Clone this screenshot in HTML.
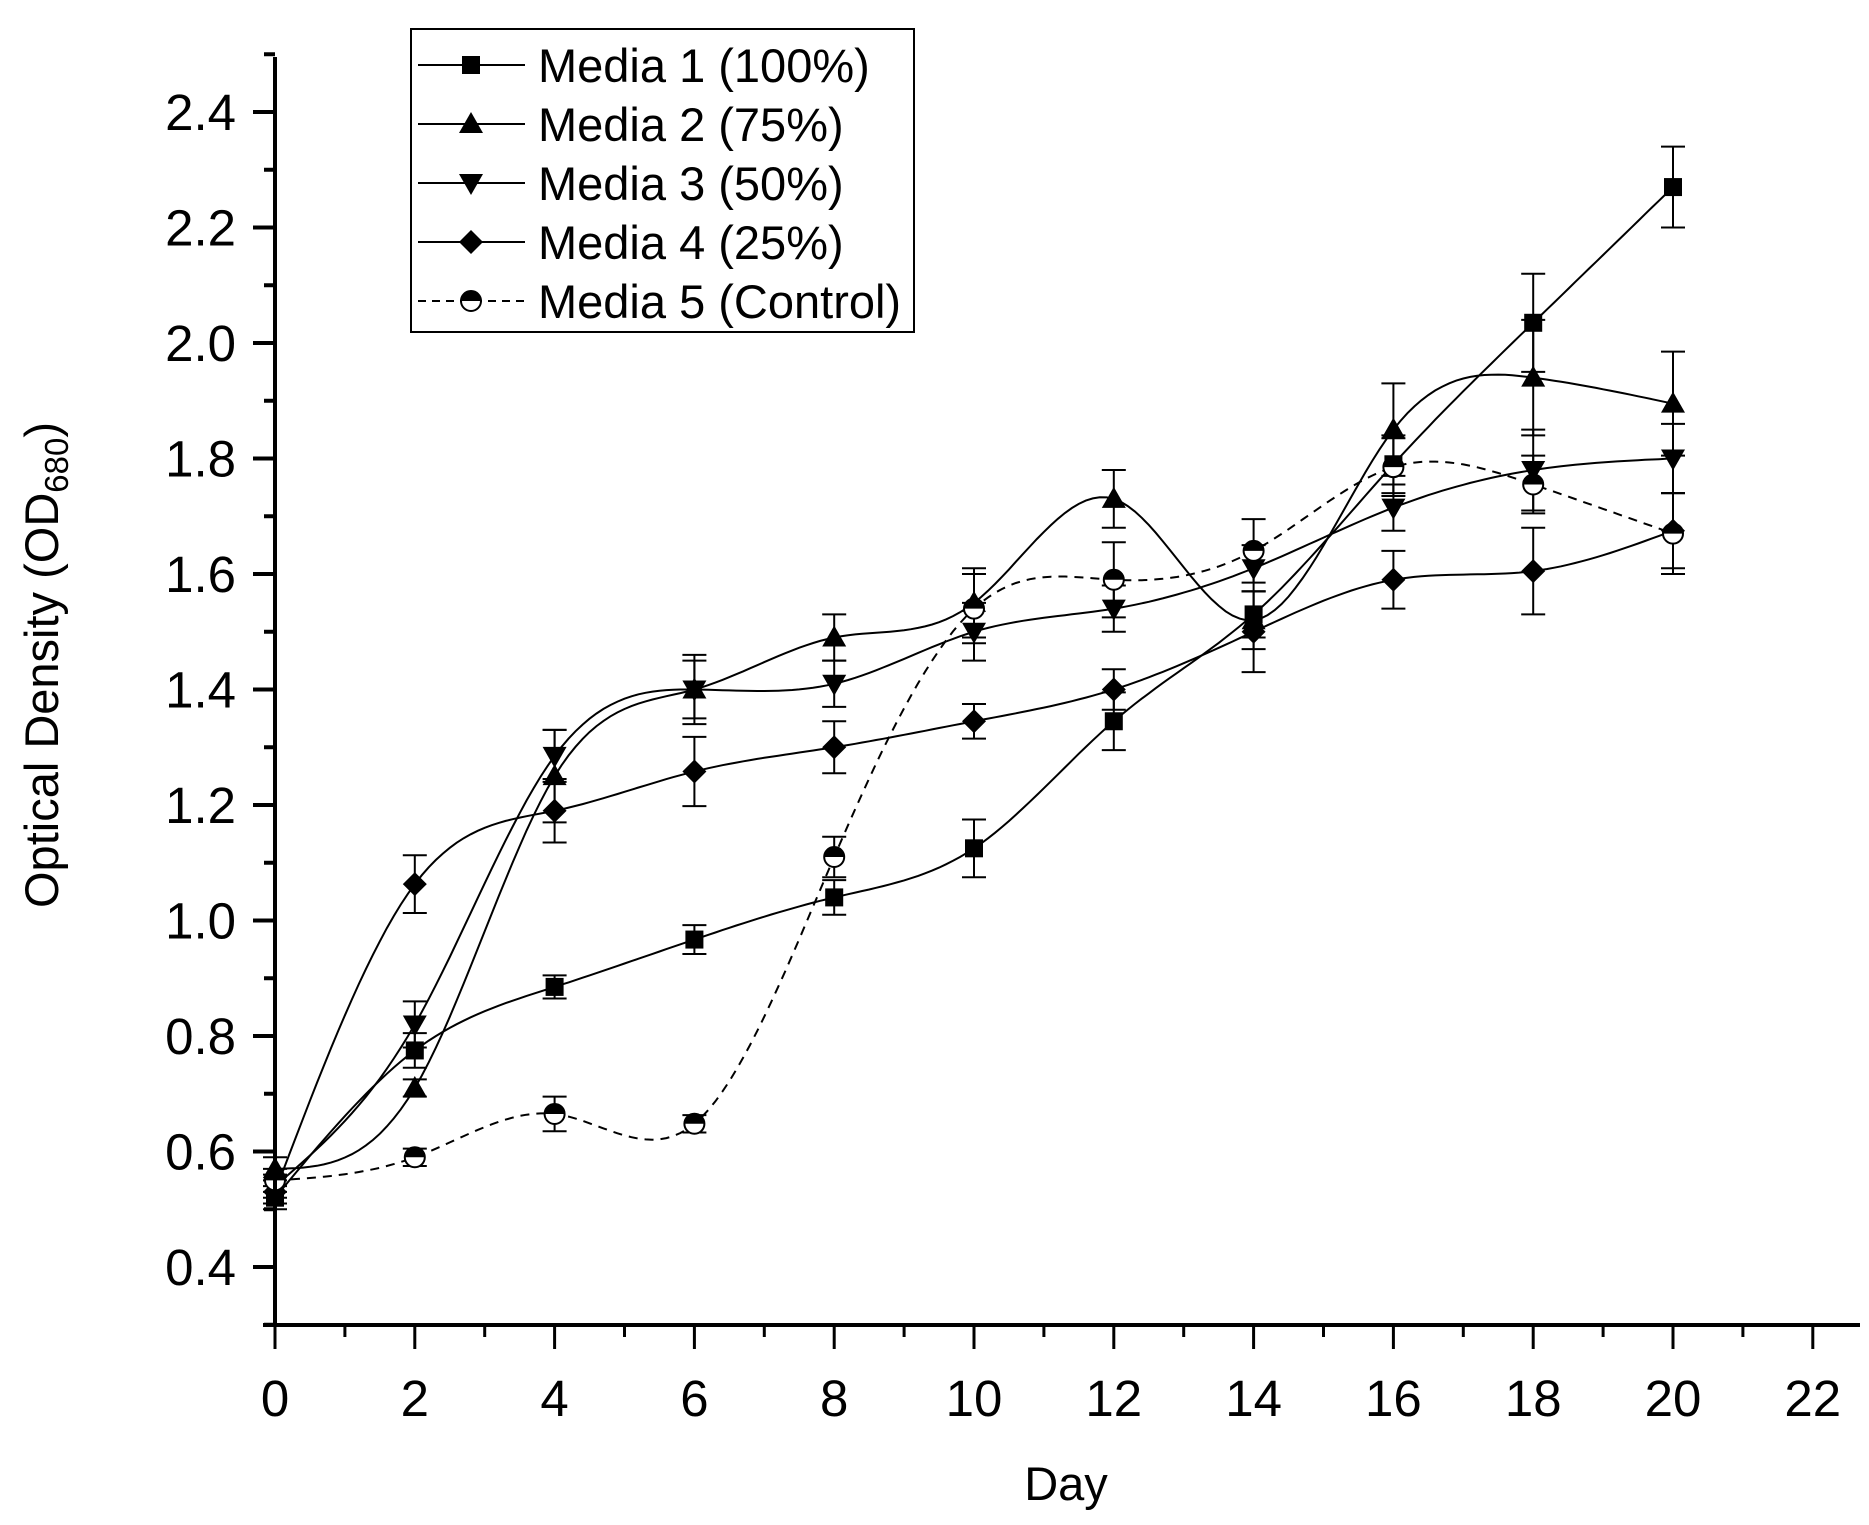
<!DOCTYPE html>
<html><head><meta charset="utf-8"><style>
html,body{margin:0;padding:0;background:#fff;}
svg{display:block;font-family:"Liberation Sans",Arial,sans-serif;}
</style></head><body>
<svg id="chart" width="1869" height="1525" viewBox="0 0 1869 1525" xmlns="http://www.w3.org/2000/svg">
<g id="plot"></g>
<g id="axes"></g>
<text x="1066" y="1500" font-size="47" text-anchor="middle">Day</text>
<text transform="translate(58,665) rotate(-90)" font-size="47" text-anchor="middle">Optical Density (OD<tspan font-size="33" dy="10">680</tspan><tspan dy="-10">)</tspan></text>
<g id="legend"></g>
</svg>
<script>
const days = [0,2,4,6,8,10,12,14,16,18,20];
const seriesNames = ["Media 1 (100%)","Media 2 (75%)","Media 3 (50%)","Media 4 (25%)","Media 5 (Control)"];
const m1 = [0.52,0.775,0.885,0.967,1.04,1.125,1.345,1.53,1.79,2.035,2.27];
const m1err = [0.02,0.03,0.02,0.025,0.03,0.05,0.05,0.04,0.05,0.085,0.07];
const m2 = [0.57,0.71,1.25,1.40,1.49,1.55,1.73,1.52,1.85,1.94,1.895];
const m2err = [0.02,0.015,0.08,0.06,0.04,0.06,0.05,0.05,0.08,0.10,0.09];
const m3 = [0.54,0.82,1.285,1.40,1.41,1.50,1.54,1.61,1.715,1.78,1.80];
const m3err = [0.02,0.04,0.045,0.05,0.04,0.05,0.04,0.04,0.04,0.07,0.06];
const m4 = [0.53,1.063,1.19,1.258,1.30,1.345,1.40,1.50,1.59,1.605,1.675];
const m4err = [0.02,0.05,0.055,0.06,0.045,0.03,0.035,0.07,0.05,0.075,0.065];
const m5 = [0.55,0.59,0.665,0.648,1.11,1.54,1.59,1.64,1.785,1.755,1.67];
const m5err = [0.02,0.015,0.03,0.015,0.035,0.06,0.065,0.055,0.05,0.05,0.07];
const xTicks = [0,2,4,6,8,10,12,14,16,18,20,22];
const yTicks = [0.4,0.6,0.8,1.0,1.2,1.4,1.6,1.8,2.0,2.2,2.4];

const NS="http://www.w3.org/2000/svg";
const X0=275, XD=69.9, Y04=1267, YS=577.5;
function xs(d){return X0+XD*d;}
function ys(v){return Y04-(v-0.4)*YS;}
function mk(tag,attrs,parent){const e=document.createElementNS(NS,tag);for(const k in attrs)e.setAttribute(k,attrs[k]);parent.appendChild(e);return e;}
const plot=document.getElementById('plot'), axes=document.getElementById('axes'), legend=document.getElementById('legend');

function spline(xa,ya){
  const n=xa.length, h=[], a=[], l=[1], mu=[0], z=[0], c=new Array(n).fill(0), b=[], d=[];
  for(let i=0;i<n-1;i++)h.push(xa[i+1]-xa[i]);
  for(let i=1;i<n-1;i++)a[i]=3/h[i]*(ya[i+1]-ya[i])-3/h[i-1]*(ya[i]-ya[i-1]);
  for(let i=1;i<n-1;i++){l[i]=2*(xa[i+1]-xa[i-1])-h[i-1]*mu[i-1];mu[i]=h[i]/l[i];z[i]=(a[i]-h[i-1]*z[i-1])/l[i];}
  l[n-1]=1;z[n-1]=0;
  for(let j=n-2;j>=0;j--){c[j]=z[j]-mu[j]*c[j+1];b[j]=(ya[j+1]-ya[j])/h[j]-h[j]*(c[j+1]+2*c[j])/3;d[j]=(c[j+1]-c[j])/(3*h[j]);}
  const pts=[];
  for(let j=0;j<n-1;j++){for(let s=0;s<20;s++){const t=h[j]*s/20;pts.push([xa[j]+t,ya[j]+b[j]*t+c[j]*t*t+d[j]*t*t*t]);}}
  pts.push([xa[n-1],ya[n-1]]);
  return pts;
}

function marker(type,cx,cy,parent,name){
  let e;
  if(type===0){e=mk('rect',{x:cx-9,y:cy-9,width:18,height:18,fill:'#000'},parent);}
  else if(type===1){e=mk('polygon',{points:`${cx},${cy-12} ${cx+12},${cy+9} ${cx-12},${cy+9}`,fill:'#000'},parent);}
  else if(type===2){e=mk('polygon',{points:`${cx},${cy+12} ${cx+12},${cy-9} ${cx-12},${cy-9}`,fill:'#000'},parent);}
  else if(type===3){e=mk('polygon',{points:`${cx},${cy-12} ${cx+12},${cy} ${cx},${cy+12} ${cx-12},${cy}`,fill:'#000'},parent);}
  else {
    e=mk('g',{},parent);
    mk('circle',{cx:cx,cy:cy,r:10,fill:'#fff',stroke:'#000','stroke-width':2},e);
    mk('path',{d:`M${cx-10},${cy} A10,10 0 0 1 ${cx+10},${cy} Z`,fill:'#000'},e);
  }
  
  
}

const allVals=[m1,m2,m3,m4,m5], allErr=[m1err,m2err,m3err,m4err,m5err];
allVals.forEach((vals,si)=>{
  const g=mk('g',{},plot);
  
  
  const pts=spline(days,vals);
  const path=mk('path',{d:'M'+pts.map(p=>xs(p[0]).toFixed(1)+','+ys(p[1]).toFixed(1)).join(' L'),fill:'none',stroke:'#000','stroke-width':2,'stroke-dasharray':si===4?'9,7':'none'},g);
  
  
  days.forEach((d,i)=>{
    const cx=xs(d), e=allErr[si][i];
    const t=ys(vals[i]+e), b=ys(vals[i]-e);
    const eb=mk('path',{d:`M${cx},${t} L${cx},${b} M${cx-12},${t} L${cx+12},${t} M${cx-12},${b} L${cx+12},${b}`,stroke:'#000','stroke-width':2,fill:'none'},g);
    
    
  });
  days.forEach((d,i)=>{marker(si,xs(d),ys(vals[i]),g,'point-media-'+(si+1));});
});

const yl=mk('line',{x1:X0,y1:57,x2:X0,y2:1327,stroke:'#000','stroke-width':4},axes);


const xl=mk('line',{x1:263,y1:1325,x2:1860,y2:1325,stroke:'#000','stroke-width':4},axes);


for(let v=0.3;v<2.51;v+=0.1){
  const y=ys(v), major=Math.abs(Math.round(v*10)%2)===0;
  mk('line',{x1:X0-(major?22:11),y1:y,x2:X0,y2:y,stroke:'#000','stroke-width':4},axes);
}
yTicks.forEach(v=>{
  const t=mk('text',{x:236,y:ys(v)+18,'font-size':51,'text-anchor':'end'},axes);
  t.textContent=v.toFixed(1);
  
  
});
for(let d=0;d<=22;d++){
  mk('line',{x1:xs(d),y1:1325,x2:xs(d),y2:1325+(d%2===0?24:12),stroke:'#000','stroke-width':3},axes);
}
xTicks.forEach(d=>{
  const t=mk('text',{x:xs(d),y:1416,'font-size':51,'text-anchor':'middle'},axes);
  t.textContent=String(d);
  
  
});

const lb=mk('rect',{x:411,y:29,width:503,height:303,fill:'#fff',stroke:'#000','stroke-width':2},legend);


seriesNames.forEach((nm,i)=>{
  const y=65+i*59;
  const g=mk('g',{},legend);
  
  
  mk('line',{x1:418,y1:y,x2:525,y2:y,stroke:'#000','stroke-width':2,'stroke-dasharray':i===4?'8,6':'none'},g);
  marker(i,471,y,g,'legend-marker');
  const t=mk('text',{x:538,y:y+17,'font-size':47},g);
  t.textContent=nm;
});
</script>
</body></html>
